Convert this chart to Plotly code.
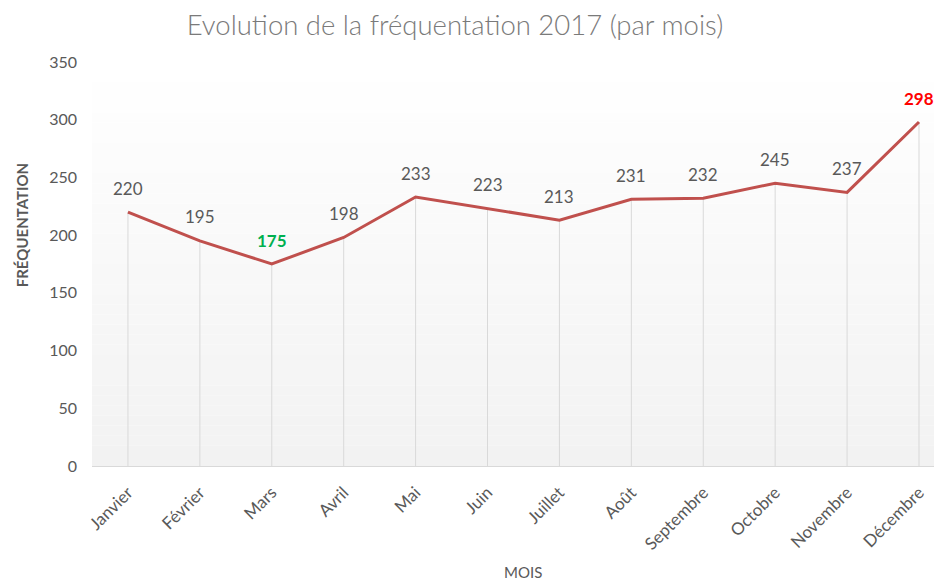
import plotly.graph_objects as go

months = ["Janvier", "Février", "Mars", "Avril", "Mai", "Juin", "Juillet",
          "Août", "Septembre", "Octobre", "Novembre", "Décembre"]
visits = [220, 195, 175, 198, 233, 223, 213, 231, 232, 245, 237, 298]
y_ticks = [0, 50, 100, 150, 200, 250, 300, 350]

FONT = "Lato"
GREY = "#595959"

idx = list(range(len(months)))

# drop lines from each point to the axis
dx, dy = [], []
for i, v in zip(idx, visits):
    dx += [i, i, None]
    dy += [0, v, None]

fig = go.Figure()
fig.add_trace(go.Scatter(x=dx, y=dy, mode="lines",
                         line=dict(color="#d9d9d9", width=1),
                         hoverinfo="skip", showlegend=False))
fig.add_trace(go.Scatter(x=idx, y=visits, mode="lines",
                         line=dict(color="#c0504d", width=3),
                         showlegend=False))

vmin, vmax = min(visits), max(visits)
for i, v in zip(idx, visits):
    if v == vmax:
        col, bold = "#ff0000", True
    elif v == vmin:
        col, bold = "#00b050", True
    else:
        col, bold = GREY, False
    fig.add_annotation(x=i, y=v, text=f"<b>{v}</b>" if bold else str(v),
                       showarrow=False, yshift=24,
                       font=dict(family=FONT, size=17, color=col))

# gradient background
n = 40
for k in range(n):
    f = (k + 0.5) / n
    c = int(round(242 + (255 - 242) * f))
    fig.add_shape(type="rect", xref="x domain", yref="y domain",
                  x0=0, x1=1, y0=k / n, y1=(k + 1) / n,
                  fillcolor=f"rgb({c},{c},{c})", line=dict(width=0),
                  layer="below")

fig.add_annotation(text="<b>FRÉQUENTATION</b>", xref="paper", yref="paper",
                   x=-0.083, y=0.597, xanchor="center", yanchor="middle",
                   textangle=-90, showarrow=False,
                   font=dict(family=FONT, size=15, color=GREY))
fig.add_annotation(text="MOIS", xref="paper", yref="paper",
                   x=0.507, y=-0.262, xanchor="center", yanchor="middle",
                   showarrow=False,
                   font=dict(family=FONT, size=15, color=GREY))

fig.update_layout(
    width=934, height=573,
    margin=dict(l=84, r=0, t=54, b=115),
    paper_bgcolor="white", plot_bgcolor="white",
    title=dict(text="Evolution de la fréquentation 2017 (par mois)",
               x=447 / 934, xref="container", xanchor="center",
               y=1 - 17 / 573, yref="container", yanchor="middle",
               font=dict(family="Lato", weight=300, size=27.5, color="#7a7a7a")),
    xaxis=dict(tickmode="array", tickvals=idx, ticktext=months,
               range=[-0.5, 11.32], tickangle=-45, showgrid=False,
               zeroline=False, showline=True, linecolor="#d9d9d9",
               linewidth=1, ticks="", ticklabelstandoff=9,
               tickfont=dict(family=FONT, size=17, color=GREY)),
    yaxis=dict(range=[0, 350], tickvals=y_ticks, showgrid=False,
               zeroline=False, showline=False, ticks="",
               ticklabelstandoff=14,
               tickfont=dict(family=FONT, size=16, color=GREY)),
)

fig.write_html("out.html")
